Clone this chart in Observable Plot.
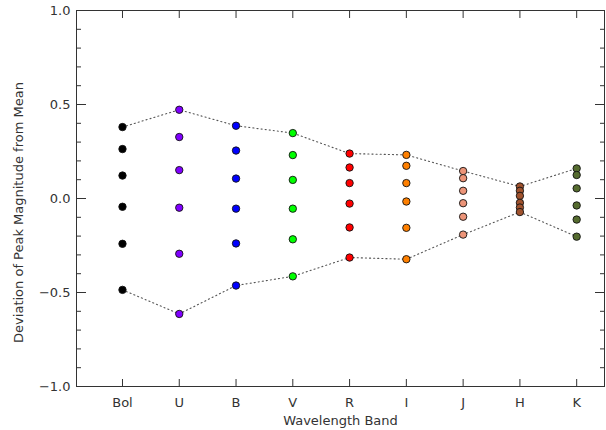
<!DOCTYPE html>
<html><head><meta charset="utf-8">
<script src="https://cdn.jsdelivr.net/npm/d3@7"></script>
<script src="https://cdn.jsdelivr.net/npm/@observablehq/plot@0.6"></script>
<style>
body{margin:0;background:#fff;}
#chart svg{display:block;}
</style>
</head><body><div id="chart"></div>
<script>
const bands = ["Bol","U","B","V","R","I","J","H","K"];
const bandColors = ["#000000","#8000ff","#0000ff","#00ff00","#ff0000","#ff8000","#ec9478","#a0522d","#556b2f"];
const bolValues = [0.380, 0.263, 0.122, -0.044, -0.241, -0.486];
const uValues   = [0.472, 0.327, 0.151, -0.049, -0.294, -0.614];
const bValues   = [0.387, 0.255, 0.106, -0.054, -0.239, -0.463];
const vValues   = [0.348, 0.231, 0.099, -0.054, -0.217, -0.414];
const rValues   = [0.239, 0.165, 0.082, -0.027, -0.154, -0.314];
const iValues   = [0.232, 0.174, 0.082, -0.016, -0.156, -0.323];
const jValues   = [0.146, 0.108, 0.041, -0.025, -0.097, -0.192];
const hValues   = [0.064, 0.041, 0.014, -0.023, -0.048, -0.072];
const kValues   = [0.160, 0.125, 0.054, -0.037, -0.112, -0.203];
const yMajorTicks = [-1, -0.5, 0, 0.5, 1];
const yTickLabels = ["\u22121.0", "\u22120.5", "0.0", "0.5", "1.0"];
const yMinorTicks = d3.range(-10, 11).map(i => i / 10);

const series = [bolValues,uValues,bValues,vValues,rValues,iValues,jValues,hValues,kValues];
const rows = [];
series.forEach((vals, i) => vals.forEach(v => rows.push({band: bands[i], idx: i, value: v})));
const maxRows = series.map((vals, i) => ({idx: i, value: d3.max(vals)}));
const minRows = series.map((vals, i) => ({idx: i, value: d3.min(vals)}));
const colorOf = Object.fromEntries(bands.map((b, i) => [b, bandColors[i]]));
const idxTicks = bands.map((b, i) => i);

const font = "DejaVu Sans, sans-serif";
const axisColor = "#333";

const chart = Plot.plot({
  width: 606,
  height: 430,
  marginLeft: 76,
  marginRight: 2,
  marginTop: 10,
  marginBottom: 44,
  style: {fontFamily: font, fontSize: "13px", color: axisColor, background: "#fff"},
  x: {type: "linear", domain: [-0.81, 8.49]},
  y: {domain: [-1, 1]},
  marks: [
    Plot.line(maxRows, {x: "idx", y: "value", stroke: "#555", strokeWidth: 1.1, strokeDasharray: "1.1,3"}),
    Plot.line(minRows, {x: "idx", y: "value", stroke: "#555", strokeWidth: 1.1, strokeDasharray: "1.1,3"}),
    Plot.frame({stroke: axisColor, strokeWidth: 1}),
    Plot.axisY({anchor: "left", ticks: yMajorTicks, tickSize: -10, tickPadding: 16,
      tickFormat: d => yTickLabels[yMajorTicks.indexOf(d)], label: null, stroke: axisColor, fill: axisColor}),
    Plot.axisY({anchor: "left", ticks: yMinorTicks, tickSize: -5, tickFormat: () => "", label: null, stroke: axisColor}),
    Plot.axisY({anchor: "right", ticks: yMajorTicks, tickSize: -10, tickFormat: () => "", label: null, stroke: axisColor}),
    Plot.axisY({anchor: "right", ticks: yMinorTicks, tickSize: -5, tickFormat: () => "", label: null, stroke: axisColor}),
    Plot.axisX({anchor: "bottom", ticks: idxTicks, tickSize: -7, tickPadding: 18,
      tickFormat: i => bands[i], label: null, stroke: axisColor, fill: axisColor}),
    Plot.axisX({anchor: "top", ticks: idxTicks, tickSize: -7, tickFormat: () => "", label: null, stroke: axisColor}),
    Plot.dot(rows, {x: "idx", y: "value", r: 3.7, fill: d => colorOf[d.band], stroke: "#111", strokeWidth: 0.9}),
    Plot.text(["Wavelength Band"], {frameAnchor: "bottom", dy: 34, lineAnchor: "middle", text: d => d, fill: axisColor, fontSize: 13, letterSpacing: "0.3px"}),
    Plot.text(["Deviation of Peak Magnitude from Mean"], {frameAnchor: "left", dx: -58, dy: 14, rotate: -90, textAnchor: "middle", lineAnchor: "middle", text: d => d, fill: axisColor, fontSize: 13, letterSpacing: "1.4px"})
  ]
});
document.getElementById("chart").appendChild(chart);
</script>
</body></html>
